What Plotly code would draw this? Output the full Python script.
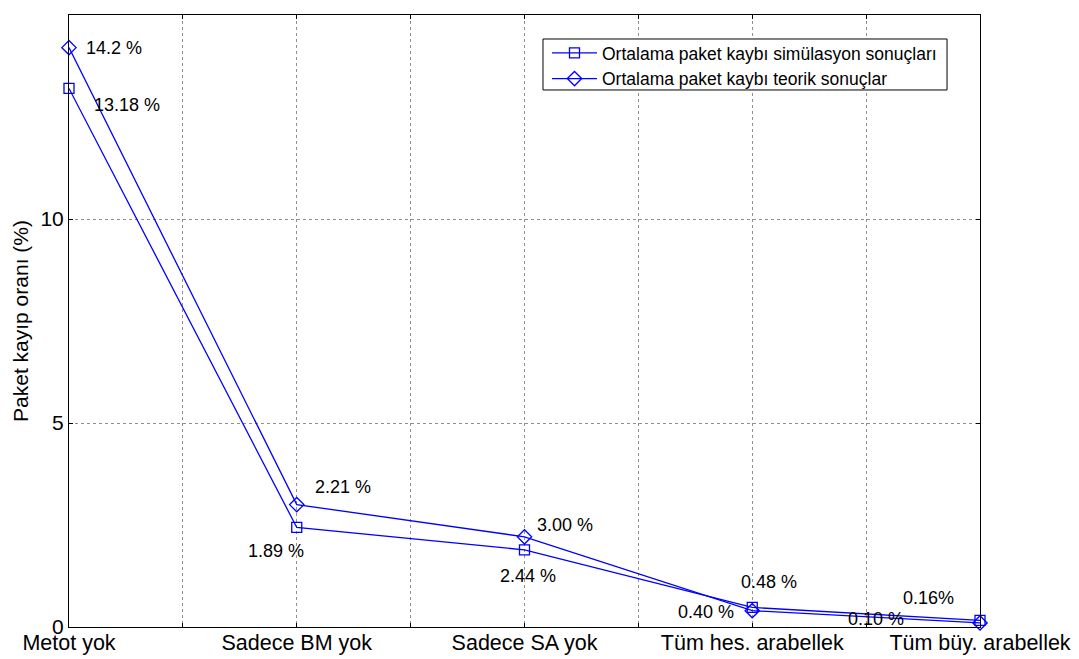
import plotly.graph_objects as go

categories = ["Metot yok", "Sadece BM yok", "Sadece SA yok", "Tüm hes. arabellek", "Tüm büy. arabellek"]
sim_values = [13.2, 2.44, 1.89, 0.48, 0.16]
theo_values = [14.2, 3.00, 2.21, 0.40, 0.10]
sim_name = "Ortalama paket kaybı simülasyon sonuçları"
theo_name = "Ortalama paket kaybı teorik sonuçlar"
sim_labels = ["13.18 %", "1.89 %", "2.44 %", "0.48 %", "0.16%"]
theo_labels = ["14.2 %", "2.21 %", "3.00 %", "0.40 %", "0.10 %"]
y_ticks = [0, 5, 10, 15]

xpos = list(range(1, len(categories) + 1))
BLUE = "#0000FF"
FONT = "Liberation Sans, Arial, sans-serif"

# pixel offsets of labels from their points (left edge, vertical middle)
sim_off = [(23, -17), (-51, -24), (-27, -26), (-13, 25), (-79, 22)]
theo_off = [(15, 0), (16, 18), (10, 12), (-76, -1), (-134, 4)]

fig = go.Figure()
fig.add_trace(go.Scatter(
    x=xpos, y=sim_values, name=sim_name, mode="lines+markers",
    line=dict(color=BLUE, width=1.3),
    marker=dict(symbol="square-open", size=10, color=BLUE, line=dict(width=1.3)),
    cliponaxis=False,
))
fig.add_trace(go.Scatter(
    x=xpos, y=theo_values, name=theo_name, mode="lines+markers",
    line=dict(color=BLUE, width=1.3),
    marker=dict(symbol="diamond-open", size=11, color=BLUE, line=dict(width=1.3)),
    cliponaxis=False,
))

annotations = []
for xs, ys, labs, offs in [(xpos, sim_values, sim_labels, sim_off), (xpos, theo_values, theo_labels, theo_off)]:
    for x, y, t, (dx, dy) in zip(xs, ys, labs, offs):
        annotations.append(dict(
            x=x, y=y, xref="x", yref="y", text=t, showarrow=False,
            xanchor="left", yanchor="middle", xshift=dx, yshift=dy,
            font=dict(family=FONT, size=18, color="black"),
        ))

half_ticks = []
half_text = []
for i, c in enumerate(categories):
    half_ticks.append(xpos[i])
    half_text.append(c)
    if i < len(categories) - 1:
        half_ticks.append(xpos[i] + 0.5)
        half_text.append("")

fig.update_layout(
    width=1071, height=651, autosize=False,
    margin=dict(l=61, r=99, t=7, b=32, pad=0),
    paper_bgcolor="white", plot_bgcolor="white",
    font=dict(family=FONT, size=21, color="black"),
    showlegend=True,
    legend=dict(
        x=0.5247, y=0.9674, xanchor="left", yanchor="top",
        bgcolor="rgba(0,0,0,0)", borderwidth=0,
        font=dict(family=FONT, size=17.5, color="black"),
        tracegroupgap=0, itemwidth=45,
    ),
    shapes=[dict(
        type="rect", xref="paper", yref="paper",
        x0=0.5203, x1=0.9638, y0=0.8775, y1=0.9608,
        fillcolor="white", line=dict(color="black", width=1), layer="above",
    )],
    annotations=annotations,
)
fig.update_xaxes(
    range=[1, 5], tickmode="array", tickvals=half_ticks, ticktext=half_text,
    showline=True, linecolor="black", linewidth=1, mirror="ticks",
    ticks="inside", ticklen=4, tickcolor="black",
    showgrid=True, gridcolor="#909090", griddash="dot", gridwidth=1,
    zeroline=False, tickfont=dict(size=21.5), automargin=False,
    ticklabelstandoff=-4,
)
fig.update_yaxes(
    range=[0, 15], tickmode="array", tickvals=y_ticks,
    showline=True, linecolor="black", linewidth=1, mirror="ticks",
    ticks="inside", ticklen=4, tickcolor="black",
    showgrid=True, gridcolor="#909090", griddash="dot", gridwidth=1,
    zeroline=False, tickfont=dict(size=21), automargin=False,
    title=dict(text="Paket kayıp oranı (%)", font=dict(size=21), standoff=6),
)

fig.write_html("out.html")
